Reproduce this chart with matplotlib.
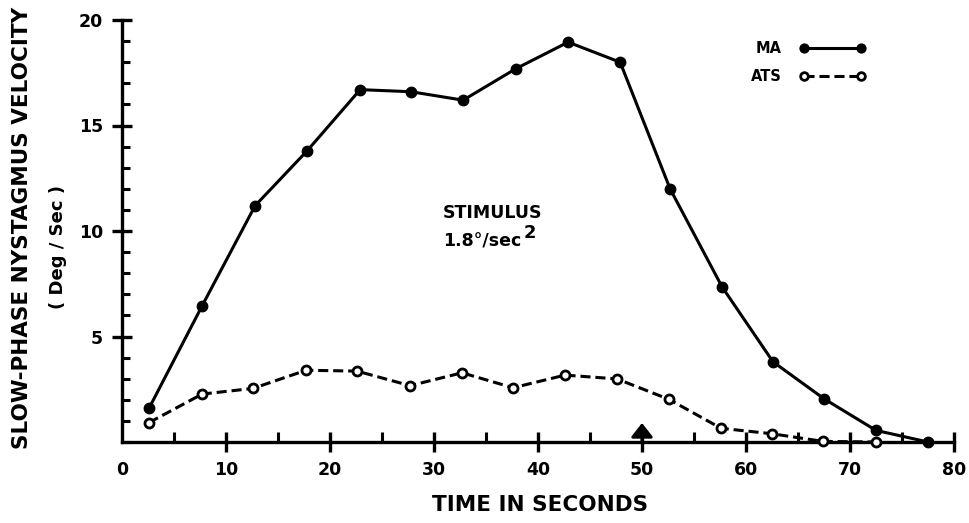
import matplotlib
matplotlib.use("Agg")
import matplotlib.pyplot as plt
from matplotlib.ticker import MultipleLocator

# ---- data ----
time_s = [2.6, 7.7, 12.8, 17.8, 22.9, 27.8, 32.8, 37.9, 42.9, 47.9,
          52.7, 57.7, 62.6, 67.5, 72.5, 77.5]
ma_vel = [1.6, 6.45, 11.2, 13.8, 16.7, 16.6, 16.2, 17.7, 18.95, 18.0,
          12.0, 7.35, 3.8, 2.05, 0.55, 0.0]
ats_time = [2.6, 7.7, 12.6, 17.7, 22.6, 27.7, 32.7, 37.6, 42.6, 47.6,
            52.6, 57.6, 62.5, 67.4, 72.5]
ats_vel = [0.92, 2.27, 2.54, 3.4, 3.36, 2.67, 3.28, 2.57, 3.17, 2.99,
           2.02, 0.65, 0.39, 0.03, 0.0]
x_ticks = [0, 10, 20, 30, 40, 50, 60, 70, 80]
y_ticks = [5, 10, 15, 20]
stim_time = 50

W, H = 969, 523
fig = plt.figure(figsize=(W / 100, H / 100), dpi=100)
ax = fig.add_axes([122 / W, 1 - 442 / H, (954 - 122) / W, (442 - 20) / H])
ax.set_xlim(0, 80)
ax.set_ylim(0, 20)

lw = 2.2
ax.plot(time_s, ma_vel, color="black", lw=lw, marker="o", ms=7.5,
        mfc="black", mec="black", label="MA", clip_on=False, zorder=3)
ax.plot(ats_time, ats_vel, color="black", lw=lw, ls=(0, (3.3, 1.6)),
        marker="o", ms=6.5, mfc="white", mec="black", mew=2.0,
        label="ATS", clip_on=False, zorder=3)

# stimulus arrow
ax.annotate("", xy=(stim_time, 0.9), xytext=(stim_time, 0.0),
            arrowprops=dict(arrowstyle="-|>,head_length=0.42,head_width=0.33",
                            mutation_scale=20, color="black", lw=2.2,
                            shrinkA=0, shrinkB=0))

for s in ["top", "right"]:
    ax.spines[s].set_visible(False)
for s in ["left", "bottom"]:
    ax.spines[s].set_linewidth(2.4)

ax.set_xticks(x_ticks)
ax.set_yticks(y_ticks)
ax.xaxis.set_minor_locator(MultipleLocator(5))
ax.yaxis.set_minor_locator(MultipleLocator(1))
ax.tick_params(axis="both", which="major", direction="inout", length=15,
               width=2.4, labelsize=12.5, pad=6)
ax.tick_params(axis="x", which="minor", direction="in", length=7, width=2.2)
ax.tick_params(axis="y", which="minor", direction="in", length=5.5, width=2.2)
ax.xaxis.get_major_ticks()[0].tick1line.set_visible(False)
for lab in ax.get_xticklabels() + ax.get_yticklabels():
    lab.set_fontweight("bold")

fig.text(540 / W, 1 - 505 / H, "TIME IN SECONDS", ha="center", va="center",
         fontsize=15.5, fontweight="bold")
fig.text(22 / W, 1 - 228 / H, "SLOW-PHASE NYSTAGMUS VELOCITY", rotation=90,
         ha="center", va="center", fontsize=15.5, fontweight="bold")
fig.text(58 / W, 1 - 247 / H, "( Deg / Sec )", rotation=90,
         ha="center", va="center", fontsize=13, fontweight="bold")

stim = fig.text(443 / W, 1 - 213 / H, "STIMULUS", ha="left", va="center",
                fontsize=12.5, fontweight="bold")
rate = fig.text(443 / W, 1 - 241 / H, "1.8°/sec", ha="left", va="center",
                fontsize=12.5, fontweight="bold")
ax.annotate("2", xy=(1, 0.45), xycoords=rate, xytext=(2, 0),
            textcoords="offset points", ha="left", va="bottom",
            fontsize=13, fontweight="bold")

leg = ax.legend(loc="upper right", bbox_to_anchor=(878 / W, 1 - 28 / H),
                bbox_transform=fig.transFigure, frameon=False, numpoints=2,
                markerfirst=False, handlelength=4.5, handletextpad=1.2,
                labelspacing=0.9, markerscale=0.85,
                prop=dict(weight="bold", size=10.5))

fig.savefig("out.png", dpi=100)
